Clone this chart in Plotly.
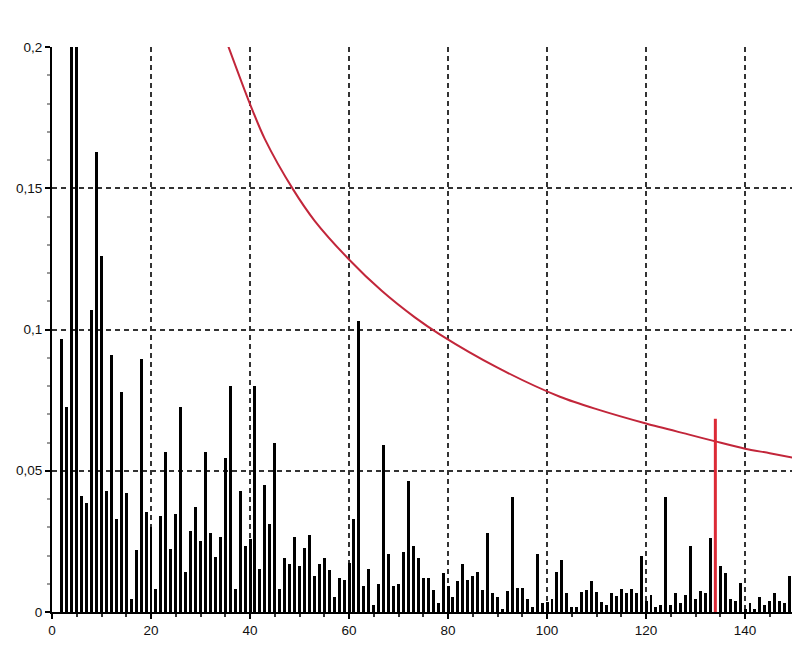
import plotly.graph_objects as go

# bar positions (1..150) and values
bar_x = list(range(1, 151))
bar_values = [
    0.0, 0.0967, 0.0725, 0.25, 0.24, 0.041, 0.0385, 0.107, 0.163, 0.126,      # 1-10
    0.043, 0.091, 0.033, 0.078, 0.042, 0.0045, 0.022, 0.0896, 0.0355, 0.030,   # 11-20
    0.008, 0.034, 0.0565, 0.0224, 0.0347, 0.0726, 0.0143, 0.0288, 0.0371, 0.0253,  # 21-30
    0.0566, 0.0281, 0.0196, 0.0267, 0.0545, 0.0801, 0.008, 0.0427, 0.0232, 0.026,  # 31-40
    0.0801, 0.0152, 0.0449, 0.0312, 0.060, 0.008, 0.0191, 0.017, 0.0267, 0.0164,   # 41-50
    0.0226, 0.0274, 0.0128, 0.0169, 0.019, 0.0149, 0.0052, 0.0122, 0.0113, 0.0175, # 51-60
    0.033, 0.103, 0.0092, 0.0151, 0.0025, 0.0099, 0.0592, 0.0205, 0.0092, 0.0099,  # 61-70
    0.0212, 0.0462, 0.0232, 0.019, 0.0122, 0.0121, 0.0079, 0.0031, 0.0137, 0.0093, # 71-80
    0.0052, 0.0108, 0.017, 0.0113, 0.0129, 0.0141, 0.0078, 0.0281, 0.0066, 0.0052, # 81-90
    0.001, 0.0074, 0.0407, 0.0086, 0.0086, 0.0045, 0.0017, 0.0206, 0.0031, 0.0034, # 91-100
    0.0045, 0.0142, 0.0183, 0.0066, 0.0017, 0.0017, 0.0072, 0.0078, 0.0108, 0.0072, # 101-110
    0.0037, 0.0025, 0.0066, 0.0058, 0.008, 0.0066, 0.008, 0.0066, 0.0199, 0.0039,  # 111-120
    0.006, 0.0017, 0.0025, 0.0407, 0.0025, 0.0066, 0.0031, 0.006, 0.0234, 0.0045,  # 121-130
    0.0074, 0.0066, 0.0261, 0.0, 0.0164, 0.0137, 0.0045, 0.0039, 0.0101, 0.001,    # 131-140
    0.0031, 0.001, 0.0052, 0.0025, 0.0039, 0.0066, 0.004, 0.0031, 0.0128, 0.0163,  # 141-150
]

# red threshold curve
curve_x = [35.6, 40, 43, 48.7, 53.1, 60, 66.6, 73.3, 78.4, 90, 102.6, 110, 120, 128.9, 134, 140, 145, 151.2]
curve_y = [0.2003, 0.1798, 0.1674, 0.1496, 0.1384, 0.1248, 0.1137, 0.1043, 0.0982,
           0.0865, 0.0762, 0.0718, 0.0667, 0.0627, 0.0604, 0.0578, 0.0562, 0.0541]

# highlighted red marker bar
marker_x = [134, 134]
marker_y = [0, 0.0684]

x_tick_vals = [0, 20, 40, 60, 80, 100, 120, 140]
y_tick_vals = [0, 0.05, 0.1, 0.15, 0.2]
y_tick_text = ["0", "0,05", "0,1", "0,15", "0,2"]

fig = go.Figure()
fig.add_trace(go.Bar(x=bar_x, y=bar_values, width=0.6,
                     marker=dict(color="black", line=dict(width=0))))
fig.add_trace(go.Scatter(x=curve_x, y=curve_y, mode="lines",
                         line=dict(color="#c2263a", width=2, shape="spline", smoothing=0.8)))
fig.add_trace(go.Scatter(x=marker_x, y=marker_y, mode="lines",
                         line=dict(color="#dc2a36", width=3)))

grid_dash = "5px,4px"
# page body has an 8px margin, so the figure is sized/offset to fill the 800x648 window
fig.update_layout(
    width=792, height=640,
    margin=dict(l=44, r=0, t=39, b=36),
    paper_bgcolor="white", plot_bgcolor="white",
    showlegend=False, bargap=0,
    font=dict(family="Liberation Sans, Arial, sans-serif", size=13.5, color="#111"),
    xaxis=dict(range=[0, 151.1], tickvals=x_tick_vals, ticks="outside", ticklen=5,
               tickwidth=1.5, tickcolor="black",
               minor=dict(dtick=5, tick0=0, ticks="outside", ticklen=3, tickcolor="#333", showgrid=False),
               showline=True, linecolor="black", linewidth=2,
               showgrid=True, gridcolor="#333333", gridwidth=1.6, griddash=grid_dash,
               zeroline=False, fixedrange=True),
    yaxis=dict(range=[0, 0.2], tickvals=y_tick_vals, ticktext=y_tick_text,
               ticks="outside", ticklen=5, tickwidth=1.5, tickcolor="black",
               minor=dict(dtick=0.01, tick0=0, ticks="outside", ticklen=3, tickcolor="#999", showgrid=False),
               showline=True, linecolor="black", linewidth=2,
               showgrid=True, gridcolor="#333333", gridwidth=1.6, griddash=grid_dash,
               zeroline=False, fixedrange=True),
)

fig.write_html("out.html")
